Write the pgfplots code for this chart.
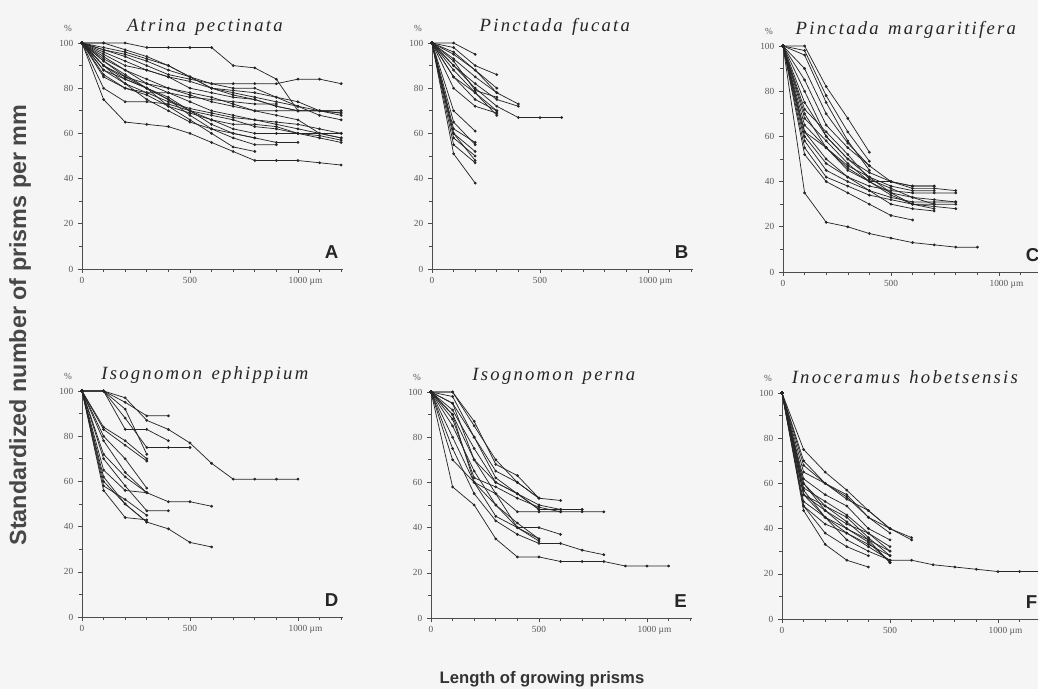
\documentclass[border=0pt]{standalone}
\usepackage{fontspec}
\setmainfont{Liberation Serif}
\setsansfont{Liberation Sans}
\newfontfamily\titlefont[LetterSpace=12]{Liberation Serif}
\usepackage{pgfplots}
\pgfplotsset{compat=1.18}

\newcommand{\tickfont}{\fontsize{7}{7}\selectfont}
\newcommand{\paneldeco}[2]{%
  \node[font=\titlefont\itshape\fontsize{14}{14}\selectfont, text=black!85]
    at (rel axis cs:0.47,1) [yshift=12pt] {#1};
  \node[font=\tickfont, text=black!65, anchor=south east]
    at (rel axis cs:0,1) [xshift=-4pt, yshift=5pt] {\%};
  \node[font=\sffamily\bfseries\fontsize{14}{14}\selectfont, text=black!85]
    at (rel axis cs:0.955,0.075) {#2};
}

\pgfplotsset{
  panel/.style={
    width=196pt, height=169.5pt, scale only axis,
    anchor=south west,
    xmin=0, xmax=1210, ymin=0, ymax=100,
    axis x line*=bottom, axis y line*=left,
    axis line style={black!70, line width=0.55pt, -},
    xtick={0,500,1000}, xticklabels={0,500,{1000\rlap{\ µm}}},
    minor xtick={100,200,300,400,600,700,800,900,1100,1200},
    ytick={0,20,40,60,80,100}, yticklabels={0,20,40,60,80,100},
    minor ytick={10,30,50,70,90},
    tick style={black!70, line width=0.45pt},
    major tick length=3pt, minor tick length=2pt,
    tick align=outside,
    every tick label/.append style={font=\tickfont, text=black!65},
    clip=false,
    cycle list={black!85,line width=0.55pt,mark=*,mark size=0.75pt\\},
  },
}

\begin{document}
\begin{tikzpicture}
\useasboundingbox (0,0) rectangle (778.5pt,516.75pt);
\fill[white!96!black] (0,0) rectangle (778.5pt,516.75pt);

% ===== A: Atrina pectinata =====
\begin{axis}[panel, at={(61.5pt,315pt)}]
\addplot coordinates {(0,100)(100,100)(200,100)(300,98)(400,98)(500,98)(600,98)(700,90)(800,89)(900,84)(1000,70)(1100,70)(1200,68)};
\addplot coordinates {(0,100)(100,97)(200,95)(300,92)(400,88)(500,85)(600,82)(700,82)(800,82)(900,82)(1000,84)(1100,84)(1200,82)};
\addplot coordinates {(0,100)(100,95)(200,90)(300,88)(400,85)(500,83)(600,80)(700,79)(800,78)(900,76)(1000,72)(1100,70)(1200,69)};
\addplot coordinates {(0,100)(100,93)(200,88)(300,84)(400,80)(500,77)(600,74)(700,72)(800,70)(900,70)(1000,70)(1100,70)(1200,69)};
\addplot coordinates {(0,100)(100,90)(200,85)(300,82)(400,80)(500,78)(600,76)(700,73)(800,70)(900,68)(1000,66)(1100,60)(1200,58)};
\addplot coordinates {(0,100)(100,88)(200,82)(300,78)(400,74)(500,71)(600,69)(700,67)(800,66)(900,65)(1000,64)(1100,62)(1200,60)};
\addplot coordinates {(0,100)(100,92)(200,86)(300,80)(400,75)(500,70)(600,68)(700,66)(800,63)(900,62)(1000,60)(1100,59)(1200,57)};
\addplot coordinates {(0,100)(100,86)(200,80)(300,77)(400,72)(500,69)(600,66)(700,64)(800,64)(900,63)(1000,60)(1100,58)(1200,56)};
\addplot coordinates {(0,100)(100,80)(200,74)(300,74)(400,73)(500,70)(600,66)(700,62)(800,60)(900,60)(1000,60)(1100,60)(1200,60)};
\addplot coordinates {(0,100)(100,75)(200,65)(300,64)(400,63)(500,60)(600,56)(700,52)(800,48)(900,48)(1000,48)(1100,47)(1200,46)};
\addplot coordinates {(0,100)(100,90)(200,84)(300,80)(400,76)(500,70)(600,64)(700,60)(800,58)(900,56)(1000,56)};
\addplot coordinates {(0,100)(100,92)(200,85)(300,80)(400,75)(500,68)(600,62)(700,58)(800,55)(900,55)};
\addplot coordinates {(0,100)(100,88)(200,84)(300,80)(400,72)(500,66)(600,60)(700,54)(800,52)};
\addplot coordinates {(0,100)(100,96)(200,92)(300,88)(400,85)(500,80)(600,78)(700,76)(800,75)(900,72)(1000,70)(1100,70)(1200,70)};
\addplot coordinates {(0,100)(100,98)(200,96)(300,93)(400,90)(500,85)(600,80)(700,78)(800,76)(900,74)(1000,72)(1100,68)(1200,66)};
\addplot coordinates {(0,100)(100,85)(200,80)(300,78)(400,78)(500,76)(600,75)(700,74)(800,73)(900,73)};
\addplot coordinates {(0,100)(100,94)(200,88)(300,82)(400,78)(500,74)(600,70)(700,68)(800,66)(900,64)(1000,62)(1100,60)(1200,58)};
\addplot coordinates {(0,100)(100,97)(200,94)(300,90)(400,86)(500,84)(600,82)(700,80)(800,80)(900,76)(1000,74)(1100,70)(1200,70)};
\addplot coordinates {(0,100)(100,100)(200,97)(300,94)(400,90)(500,85)(600,80)(700,77)(800,75)(900,72)(1000,70)};
\addplot coordinates {(0,100)(100,90)(200,82)(300,75)(400,70)(500,65)(600,62)(700,60)(800,58)};
\paneldeco{Atrina\hspace{0.5em}pectinata}{A}
\end{axis}

% ===== B: Pinctada fucata =====
\begin{axis}[panel, at={(324pt,315pt)}]
\addplot coordinates {(0,100)(100,100)(200,95)};
\addplot coordinates {(0,100)(100,98)(200,90)(300,86)};
\addplot coordinates {(0,100)(100,96)(200,88)(300,80)};
\addplot coordinates {(0,100)(100,93)(200,85)(300,78)(400,73)};
\addplot coordinates {(0,100)(100,90)(200,80)(300,72)(400,67)(500,67)(600,67)};
\addplot coordinates {(0,100)(100,88)(200,78)(300,70)};
\addplot coordinates {(0,100)(100,90)(200,82)(300,75)(400,72)};
\addplot coordinates {(0,100)(100,85)(200,78)(300,68)};
\addplot coordinates {(0,100)(100,80)(200,72)(300,69)};
\addplot coordinates {(0,100)(100,85)(200,75)(300,70)};
\addplot coordinates {(0,100)(100,70)(200,61)};
\addplot coordinates {(0,100)(100,62)(200,56)};
\addplot coordinates {(0,100)(100,60)(200,52)};
\addplot coordinates {(0,100)(100,58)(200,50)};
\addplot coordinates {(0,100)(100,55)(200,47)};
\addplot coordinates {(0,100)(100,51)(200,38)};
\addplot coordinates {(0,100)(100,65)(200,55)};
\addplot coordinates {(0,100)(100,60)(200,48)};
\addplot coordinates {(0,100)(100,95)(200,88)(300,78)};
\addplot coordinates {(0,100)(100,92)(200,79)(300,76)};
\paneldeco{Pinctada\hspace{0.5em}fucata}{B}
\end{axis}

% ===== C: Pinctada margaritifera =====
\begin{axis}[panel, at={(587.25pt,312.75pt)}]
\addplot coordinates {(0,100)(100,35)(200,22)(300,20)(400,17)(500,15)(600,13)(700,12)(800,11)(900,11)};
\addplot coordinates {(0,100)(100,100)(200,82)(300,68)(400,53)};
\addplot coordinates {(0,100)(100,98)(200,78)(300,62)(400,49)};
\addplot coordinates {(0,100)(100,96)(200,75)(300,58)(400,45)};
\addplot coordinates {(0,100)(100,90)(200,70)(300,57)(400,47)};
\addplot coordinates {(0,100)(100,65)(200,55)(300,45)(400,40)(500,40)(600,38)(700,38)};
\addplot coordinates {(0,100)(100,62)(200,50)(300,42)(400,38)(500,36)(600,35)(700,35)(800,35)};
\addplot coordinates {(0,100)(100,55)(200,42)(300,38)(400,34)(500,32)(600,30)(700,30)(800,30)};
\addplot coordinates {(0,100)(100,58)(200,45)(300,40)(400,36)(500,33)(600,31)(700,31)(800,31)};
\addplot coordinates {(0,100)(100,60)(200,48)(300,42)(400,36)(500,30)(600,28)(700,27)};
\addplot coordinates {(0,100)(100,52)(200,40)(300,35)(400,30)(500,25)(600,23)};
\addplot coordinates {(0,100)(100,70)(200,55)(300,47)(400,42)(500,38)(600,36)(700,36)};
\addplot coordinates {(0,100)(100,75)(200,60)(300,50)(400,44)(500,40)(600,37)(700,37)(800,36)};
\addplot coordinates {(0,100)(100,85)(200,65)(300,55)(400,47)(500,40)(600,38)(700,38)};
\addplot coordinates {(0,100)(100,62)(200,55)(300,46)(400,40)(500,35)(600,30)(700,29)(800,28)};
\addplot coordinates {(0,100)(100,80)(200,60)(300,50)(400,42)(500,35)(600,33)(700,32)(800,31)};
\addplot coordinates {(0,100)(100,72)(200,62)(300,52)(400,41)(500,37)(600,33)(700,30)};
\addplot coordinates {(0,100)(100,68)(200,58)(300,48)(400,40)(500,34)(600,30)(700,28)};
\paneldeco{Pinctada\hspace{0.5em}margaritifera}{C}
\end{axis}

% ===== D: Isognomon ephippium =====
\begin{axis}[panel, at={(61.5pt,54pt)}]
\addplot coordinates {(0,100)(100,100)(200,97)(300,87)(400,83)(500,77)(600,68)(700,61)(800,61)(900,61)(1000,61)};
\addplot coordinates {(0,100)(100,100)(200,95)(300,89)(400,89)};
\addplot coordinates {(0,100)(100,100)(200,83)(300,83)(400,78)};
\addplot coordinates {(0,100)(100,100)(200,88)(300,75)(400,75)(500,75)};
\addplot coordinates {(0,100)(100,84)(200,78)(300,70)};
\addplot coordinates {(0,100)(100,83)(200,76)(300,69)};
\addplot coordinates {(0,100)(100,78)(200,64)(300,55)(400,51)(500,51)(600,49)};
\addplot coordinates {(0,100)(100,70)(200,58)(300,47)(400,47)};
\addplot coordinates {(0,100)(100,62)(200,50)(300,42)(400,39)(500,33)(600,31)};
\addplot coordinates {(0,100)(100,56)(200,44)(300,43)};
\addplot coordinates {(0,100)(100,65)(200,56)(300,55)};
\addplot coordinates {(0,100)(100,60)(200,50)(300,42)};
\addplot coordinates {(0,100)(100,72)(200,62)(300,55)};
\addplot coordinates {(0,100)(100,80)(200,70)(300,57)};
\addplot coordinates {(0,100)(100,100)(200,92)(300,72)};
\addplot coordinates {(0,100)(100,58)(200,52)(300,45)};
\paneldeco{Isognomon\hspace{0.5em}ephippium}{D}
\end{axis}

% ===== E: Isognomon perna =====
\begin{axis}[panel, at={(323.25pt,53.25pt)}]
\addplot coordinates {(0,100)(100,58)(200,50)(300,35)(400,27)(500,27)(600,25)(700,25)(800,25)(900,23)(1000,23)(1100,23)};
\addplot coordinates {(0,100)(100,75)(200,55)(300,43)(400,37)(500,33)(600,33)(700,30)(800,28)};
\addplot coordinates {(0,100)(100,90)(200,60)(300,45)(400,40)(500,40)(600,37)};
\addplot coordinates {(0,100)(100,85)(200,65)(300,50)(400,40)(500,35)};
\addplot coordinates {(0,100)(100,95)(200,70)(300,55)(400,47)(500,47)(600,47)(700,47)(800,47)};
\addplot coordinates {(0,100)(100,100)(200,85)(300,70)(400,60)(500,53)(600,52)};
\addplot coordinates {(0,100)(100,100)(200,87)(300,68)(400,63)(500,53)};
\addplot coordinates {(0,100)(100,98)(200,80)(300,62)(400,55)(500,48)(600,48)(700,48)};
\addplot coordinates {(0,100)(100,90)(200,70)(300,60)(400,55)(500,50)(600,48)};
\addplot coordinates {(0,100)(100,88)(200,62)(300,58)(400,53)(500,49)(600,47)};
\addplot coordinates {(0,100)(100,92)(200,75)(300,60)(400,55)(500,48)(600,48)(700,48)};
\addplot coordinates {(0,100)(100,80)(200,60)(300,55)(400,40)(500,34)};
\addplot coordinates {(0,100)(100,95)(200,80)(300,65)(400,60)(500,53)};
\addplot coordinates {(0,100)(100,70)(200,60)(300,50)(400,42)(500,35)};
\paneldeco{Isognomon\hspace{0.5em}perna}{E}
\end{axis}

% ===== F: Inoceramus hobetsensis =====
\begin{axis}[panel, at={(586.5pt,52.5pt)}]
\addplot coordinates {(0,100)(100,55)(200,45)(300,35)(400,30)(500,26)(600,26)(700,24)(800,23)(900,22)(1000,21)(1100,21)(1200,21)};
\addplot coordinates {(0,100)(100,70)(200,60)(300,54)(400,45)(500,40)(600,35)};
\addplot coordinates {(0,100)(100,48)(200,33)(300,26)(400,23)};
\addplot coordinates {(0,100)(100,52)(200,45)(300,40)(400,35)(500,30)};
\addplot coordinates {(0,100)(100,65)(200,60)(300,55)(400,45)(500,38)};
\addplot coordinates {(0,100)(100,55)(200,48)(300,42)(400,38)(500,30)};
\addplot coordinates {(0,100)(100,60)(200,50)(300,45)(400,36)(500,28)};
\addplot coordinates {(0,100)(100,58)(200,52)(300,46)(400,38)(500,32)};
\addplot coordinates {(0,100)(100,62)(200,55)(300,50)(400,40)(500,35)};
\addplot coordinates {(0,100)(100,50)(200,42)(300,38)(400,33)(500,28)};
\addplot coordinates {(0,100)(100,55)(200,50)(300,43)(400,35)(500,25)};
\addplot coordinates {(0,100)(100,68)(200,60)(300,53)(400,48)(500,40)(600,36)};
\addplot coordinates {(0,100)(100,75)(200,65)(300,57)(400,48)(500,40)};
\addplot coordinates {(0,100)(100,57)(200,45)(300,38)(400,32)(500,26)};
\addplot coordinates {(0,100)(100,60)(200,48)(300,40)(400,34)(500,25)};
\addplot coordinates {(0,100)(100,50)(200,38)(300,32)(400,28)};
\paneldeco{Inoceramus\hspace{0.5em}hobetsensis}{F}
\end{axis}

% global axis labels
\node[rotate=90, font=\sffamily\bfseries\fontsize{17.5}{17.5}\selectfont, text=black!72]
  at (15pt,273pt) {Standardized number of prisms per mm};
\node[font=\sffamily\bfseries\fontsize{12.5}{12.5}\selectfont, text=black!80]
  at (406.5pt,7pt) {Length of growing prisms};
\end{tikzpicture}
\end{document}
